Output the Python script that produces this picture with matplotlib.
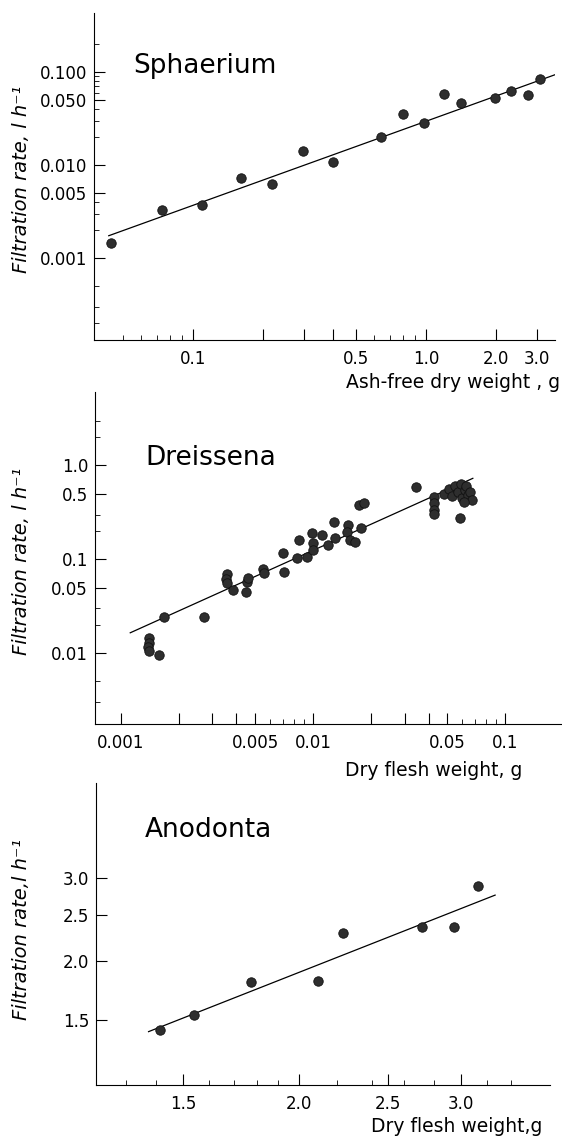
import matplotlib
matplotlib.use("Agg")
import matplotlib.pyplot as plt
from matplotlib.ticker import FixedLocator, NullFormatter

# Sphaerium: ash-free dry weight (g) vs filtration rate (l/h)
sph_w = [0.0443, 0.0736, 0.109, 0.160, 0.219, 0.298, 0.401, 0.644,
         0.798, 0.979, 1.19, 1.42, 1.98, 2.31, 2.73, 3.10]
sph_f = [0.00146, 0.00328, 0.00378, 0.00731, 0.00636, 0.01416, 0.01086, 0.0202,
         0.0353, 0.0281, 0.0585, 0.046, 0.053, 0.063, 0.0566, 0.0841]
sph_fit_w = [0.0435, 3.6]
sph_fit_f = [0.00175, 0.094]

# Dreissena: dry flesh weight (g) vs filtration rate (l/h)
dre_w = [0.00141, 0.00140, 0.00139, 0.00141, 0.00158, 0.00168, 0.00272,
         0.00355, 0.00354, 0.00355, 0.00385, 0.00449, 0.00456, 0.00458,
         0.00552, 0.00556, 0.00697, 0.00703, 0.00830, 0.00849, 0.00929,
         0.00986, 0.0100, 0.0100, 0.0111, 0.0120, 0.0129, 0.0130,
         0.0153, 0.0151, 0.0156, 0.0166, 0.0179, 0.0174, 0.0184,
         0.0343, 0.0427, 0.0427, 0.0427, 0.0427,
         0.048, 0.051, 0.053, 0.055, 0.057, 0.059, 0.060, 0.062, 0.063,
         0.064, 0.066, 0.067, 0.061, 0.0584]
dre_f = [0.0144, 0.0129, 0.0117, 0.0106, 0.0096, 0.0245, 0.0245,
         0.0698, 0.0613, 0.0556, 0.0471, 0.0452, 0.0578, 0.0627,
         0.0783, 0.0710, 0.118, 0.0739, 0.1026, 0.1607, 0.1067,
         0.189, 0.148, 0.126, 0.180, 0.142, 0.248, 0.168,
         0.232, 0.197, 0.161, 0.154, 0.214, 0.375, 0.40,
         0.585, 0.465, 0.395, 0.336, 0.304,
         0.50, 0.56, 0.47, 0.60, 0.52, 0.64, 0.45, 0.55, 0.60,
         0.48, 0.52, 0.43, 0.41, 0.274]
dre_fit_w = [0.00112, 0.068]
dre_fit_f = [0.0165, 0.73]

# Anodonta: dry flesh weight (g) vs filtration rate (l/h)
ano_w = [1.416, 1.541, 1.774, 2.098, 2.234, 2.722, 2.946, 3.13]
ano_f = [1.429, 1.537, 1.807, 1.813, 2.286, 2.353, 2.353, 2.88]
ano_fit_w = [1.375, 3.264]
ano_fit_f = [1.418, 2.754]

W, H = 562, 1137


def box(l, r, t, b):
    return [l / W, 1 - b / H, (r - l) / W, (b - t) / H]


def style(ax):
    for s in ["top", "right"]:
        ax.spines[s].set_visible(False)
    for s in ["left", "bottom"]:
        ax.spines[s].set_linewidth(0.8)
    ax.set_xscale("log")
    ax.set_yscale("log")
    ax.tick_params(which="major", direction="in", length=8, width=0.8,
                   labelsize=12)
    ax.tick_params(which="minor", direction="in", length=3.5, width=0.6)
    ax.tick_params(axis="x", which="major", pad=7)
    ax.tick_params(axis="y", which="major", pad=5)


def draw(ax, x, y, fx, fy):
    ax.plot(fx, fy, color="black", lw=0.9)
    ax.plot(x, y, "o", ms=6.8, mfc="#2e2e2e", mec="#111111", mew=0.6)


fig = plt.figure(figsize=(W / 100, H / 100), dpi=100)
ylab_kw = dict(rotation=90, ha="center", va="center", fontsize=14,
               style="italic")
xlab_kw = dict(ha="right", va="center", fontsize=13.5)

# --- Sphaerium ---
ax1 = fig.add_axes(box(94, 555, 13, 340))
style(ax1)
draw(ax1, sph_w, sph_f, sph_fit_w, sph_fit_f)
ax1.set_xlim(0.0376, 3.58)
ax1.set_ylim(0.000133, 0.43)
ax1.set_xticks([0.1, 0.2, 0.3, 0.4, 0.5, 1.0, 2.0, 3.0],
               ["0.1", "", "", "", "0.5", "1.0", "2.0", "3.0"])
ax1.xaxis.set_minor_locator(FixedLocator([0.05, 0.06, 0.07, 0.08, 0.09,
                                          0.6, 0.7, 0.8, 0.9]))
ax1.set_yticks([0.001, 0.005, 0.01, 0.05, 0.1],
               ["0.001", "0.005", "0.010", "0.050", "0.100"])
ax1.yaxis.set_minor_locator(FixedLocator([0.0002, 0.0003, 0.0005,
                                          0.002, 0.003, 0.004,
                                          0.02, 0.03, 0.04,
                                          0.06, 0.07, 0.08, 0.09, 0.2]))
ax1.xaxis.set_minor_formatter(NullFormatter())
ax1.yaxis.set_minor_formatter(NullFormatter())
fig.text(133 / W, 1 - 73 / H, "Sphaerium", fontsize=19, va="baseline")
fig.text(22 / W, 1 - 179 / H, "Filtration rate, l h⁻¹", **ylab_kw)
fig.text(560 / W, 1 - 383 / H, "Ash-free dry weight , g", **xlab_kw)

# --- Dreissena ---
ax2 = fig.add_axes(box(95, 562, 392, 724))
style(ax2)
draw(ax2, dre_w, dre_f, dre_fit_w, dre_fit_f)
ax2.set_xlim(0.000734, 0.198)
ax2.set_ylim(0.00176, 6.07)
ax2.set_xticks([0.001, 0.002, 0.003, 0.004, 0.005, 0.01,
                0.02, 0.03, 0.04, 0.05, 0.1],
               ["0.001", "", "", "", "0.005", "0.01",
                "", "", "", "0.05", "0.1"])
ax2.xaxis.set_minor_locator(FixedLocator([0.006, 0.007, 0.008, 0.009,
                                          0.06, 0.07, 0.08, 0.09]))
ax2.set_yticks([0.01, 0.05, 0.1, 0.5, 1.0],
               ["0.01", "0.05", "0.1", "0.5", "1.0"])
ax2.yaxis.set_minor_locator(FixedLocator([0.003, 0.005, 0.02, 0.03,
                                          0.2, 0.3, 2.0, 3.0]))
ax2.xaxis.set_minor_formatter(NullFormatter())
ax2.yaxis.set_minor_formatter(NullFormatter())
fig.text(145 / W, 1 - 465 / H, "Dreissena", fontsize=19, va="baseline")
fig.text(22 / W, 1 - 561 / H, "Filtration rate, l h⁻¹", **ylab_kw)
fig.text(522 / W, 1 - 770 / H, "Dry flesh weight, g", **xlab_kw)

# --- Anodonta ---
ax3 = fig.add_axes(box(96, 550, 783, 1085))
style(ax3)
draw(ax3, ano_w, ano_f, ano_fit_w, ano_fit_f)
ax3.set_xlim(1.206, 3.743)
ax3.set_ylim(1.094, 4.75)
ax3.set_xticks([1.5, 2.0, 2.5, 3.0], ["1.5", "2.0", "2.5", "3.0"])
ax3.xaxis.set_minor_locator(FixedLocator([1.3, 1.4, 1.6, 1.7, 1.8, 1.9,
                                          2.2, 2.4, 2.6, 2.8, 3.2, 3.4]))
ax3.set_yticks([1.5, 2.0, 2.5, 3.0], ["1.5", "2.0", "2.5", "3.0"])
ax3.yaxis.set_minor_locator(FixedLocator([]))
ax3.xaxis.set_minor_formatter(NullFormatter())
ax3.yaxis.set_minor_formatter(NullFormatter())
fig.text(145 / W, 1 - 837 / H, "Anodonta", fontsize=19, va="baseline")
fig.text(22 / W, 1 - 929 / H, "Filtration rate,l h⁻¹", **ylab_kw)
fig.text(542 / W, 1 - 1127 / H, "Dry flesh weight,g", **xlab_kw)

fig.savefig("out.png", dpi=100)
